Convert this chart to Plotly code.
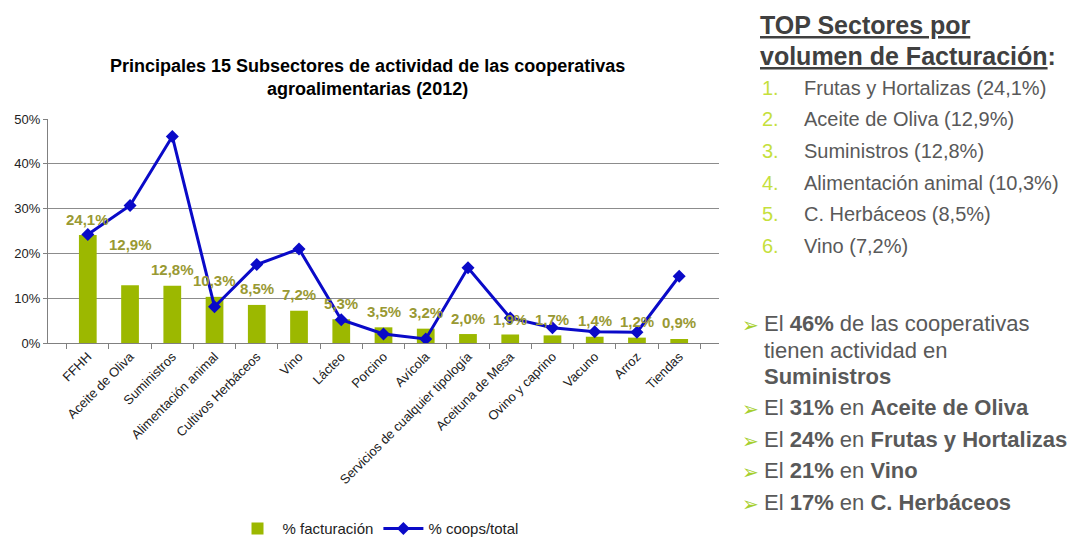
import plotly.graph_objects as go

# Subsectors and their shares (%)
categories = ["FFHH", "Aceite de Oliva", "Suministros", "Alimentación animal",
              "Cultivos Herbáceos", "Vino", "Lácteo", "Porcino", "Avícola",
              "Servicios de cualquier tipología", "Aceituna de Mesa",
              "Ovino y caprino", "Vacuno", "Arroz", "Tiendas"]
facturacion = [24.1, 12.9, 12.8, 10.3, 8.5, 7.2, 5.3, 3.5, 3.2, 2.0, 1.9, 1.7, 1.4, 1.2, 0.9]
coops_total = [24.2, 30.7, 46.1, 8.1, 17.5, 21.0, 5.2, 2.0, 0.9, 16.8, 5.6, 3.4, 2.5, 2.4, 14.9]

top_sectores = ["Frutas y Hortalizas (24,1%)", "Aceite de Oliva (12,9%)", "Suministros (12,8%)",
                "Alimentación animal (10,3%)", "C. Herbáceos (8,5%)", "Vino (7,2%)"]

W, H = 1088, 537
L, R, T, B = 47.6, 719.4, 119.3, 343.3

FONT = "Liberation Sans, Arial, sans-serif"
BAR_COLOR = "#9cb800"
LINE_COLOR = "#0a0ac8"
LABEL_COLOR = "#999933"
TEXT_GRAY = "#595959"
ACCENT = "#c5e03c"


def px_x(x):
    return (x - L) / (R - L)


def px_y(y):
    return (B - y) / (B - T)


fig = go.Figure()
fig.add_trace(go.Bar(x=categories, y=facturacion, name="% facturación",
                     marker=dict(color=BAR_COLOR, line=dict(width=0)), width=0.42))
fig.add_trace(go.Scatter(x=categories, y=coops_total, name="% coops/total",
                         mode="lines+markers",
                         line=dict(color=LINE_COLOR, width=3),
                         marker=dict(symbol="diamond", size=10, color=LINE_COLOR)))

annotations = []

# value labels above the bars
label_shift = {"12,9%": 25, "1,9%": -1}
for cat, v in zip(categories, facturacion):
    txt = f"{v:.1f}".replace(".", ",") + "%"
    annotations.append(dict(x=cat, y=v, xref="x", yref="y", text=f"<b>{txt}</b>",
                            showarrow=False, yanchor="middle",
                            yshift=16 + label_shift.get(txt, 0),
                            font=dict(family=FONT, size=15, color=LABEL_COLOR)))

# chart title
annotations.append(dict(x=px_x(367), y=px_y(78), xref="paper", yref="paper",
                        text="<b>Principales 15 Subsectores de actividad de las cooperativas<br>agroalimentarias (2012)</b>",
                        showarrow=False, xanchor="center", yanchor="middle",
                        font=dict(family=FONT, size=18, color="#000000")))

# right-hand panel: heading
annotations.append(dict(x=px_x(758), y=px_y(25), xref="paper", yref="paper",
                        text="<b><u>TOP Sectores por</u></b>", showarrow=False,
                        xanchor="left", yanchor="middle",
                        font=dict(family=FONT, size=25, color="#404040")))
annotations.append(dict(x=px_x(758), y=px_y(56), xref="paper", yref="paper",
                        text="<b><u>volumen de Facturación</u>:</b>", showarrow=False,
                        xanchor="left", yanchor="middle",
                        font=dict(family=FONT, size=25, color="#404040")))

for i, item in enumerate(top_sectores):
    yy = 88 + i * 31.6
    annotations.append(dict(x=px_x(760), y=px_y(yy), xref="paper", yref="paper",
                            text=f"{i + 1}.", showarrow=False, xanchor="left", yanchor="middle",
                            font=dict(family=FONT, size=20, color=ACCENT)))
    annotations.append(dict(x=px_x(802), y=px_y(yy), xref="paper", yref="paper",
                            text=item, showarrow=False, xanchor="left", yanchor="middle",
                            font=dict(family=FONT, size=20, color=TEXT_GRAY)))

# right-hand panel: bullet points
bullets = [
    (324, "El <b>46%</b> de las cooperativas", True),
    (351, "tienen actividad en", False),
    (377, "<b>Suministros</b>", False),
    (408, "El <b>31%</b> en <b>Aceite de Oliva</b>", True),
    (440, "El <b>24%</b> en <b>Frutas y Hortalizas</b>", True),
    (471, "El <b>21%</b> en <b>Vino</b>", True),
    (503, "El <b>17%</b> en <b>C. Herbáceos</b>", True),
]
for yy, txt, arrow in bullets:
    if arrow:
        annotations.append(dict(x=px_x(740), y=px_y(yy + 1), xref="paper", yref="paper",
                                text="➢", showarrow=False, xanchor="left", yanchor="middle",
                                font=dict(family="DejaVu Sans", size=20, color="#a6cf2e")))
    annotations.append(dict(x=px_x(762), y=px_y(yy), xref="paper", yref="paper",
                            text=txt, showarrow=False, xanchor="left", yanchor="middle",
                            font=dict(family=FONT, size=22, color=TEXT_GRAY)))

fig.update_layout(
    width=W, height=H,
    margin=dict(l=L, r=W - R, t=T, b=H - B, pad=0, autoexpand=False),
    paper_bgcolor="white", plot_bgcolor="white",
    font=dict(family=FONT, size=13, color="#333333"),
    bargap=0.6,
    showlegend=True,
    legend=dict(orientation="h", x=px_x(378), y=px_y(529), xanchor="center", yanchor="middle",
                font=dict(family=FONT, size=15, color="#222222"), itemwidth=40,
                bgcolor="rgba(0,0,0,0)"),
    annotations=annotations,
    xaxis=dict(type="category", tickangle=-45, showgrid=False, showline=True,
               linecolor="#808080", linewidth=1, ticks="outside", tickson="boundaries",
               ticklen=5, tickcolor="#808080", automargin=False,
               tickfont=dict(family=FONT, size=13, color="#222222")),
    yaxis=dict(range=[0, 50], dtick=10, ticksuffix="%", showgrid=True,
               gridcolor="#8c8c8c", gridwidth=1, zeroline=False, showline=True,
               linecolor="#808080", ticks="outside", ticklen=4, tickcolor="#808080",
               automargin=False,
               tickfont=dict(family=FONT, size=13, color="#222222")),
)

fig.write_html("out.html")
